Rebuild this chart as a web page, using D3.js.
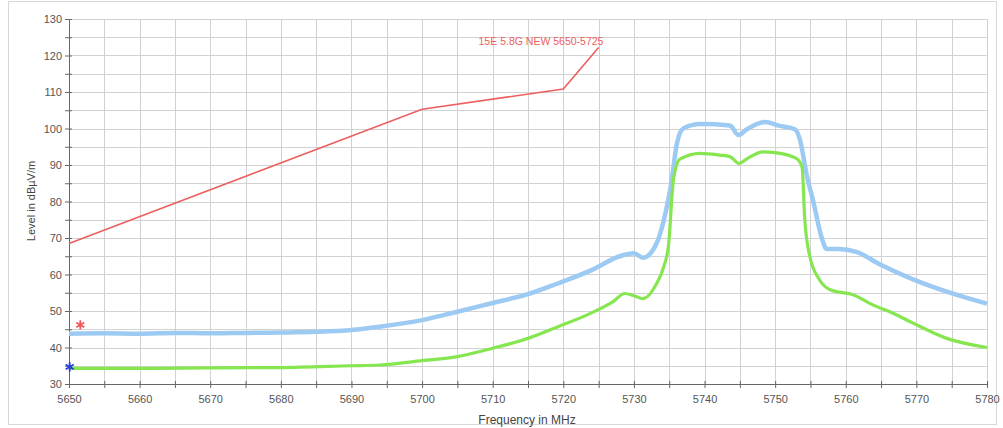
<!DOCTYPE html>
<html>
<head>
<meta charset="utf-8">
<script src="https://cdn.jsdelivr.net/npm/d3@7"></script>
<style>
    body { margin: 0; background: #fff; }
    svg { display: block; font-family: "Liberation Sans", Arial, sans-serif; }
</style>
</head>
<body>
<svg id="chart" width="1003" height="428"></svg>
<script>
// limit line (15E 5.8G NEW 5650-5725)
var limitLine = [[5650, 68.5], [5700, 105.3], [5720, 110.8], [5725, 122.2]];

// blue trace (freq MHz, level dBuV/m)
var blueTrace = [
    [5650, 43.8], [5655, 43.9], [5660, 43.8], [5665, 44.0], [5670, 43.9],
    [5675, 44.0], [5680, 44.1], [5685, 44.3], [5690, 44.8], [5694, 45.7],
    [5700, 47.5], [5705, 49.8], [5710, 52.2], [5715, 54.6], [5719, 57.4],
    [5724, 61.2], [5728, 65.0], [5730, 65.8], [5731.3, 64.6], [5733.2, 68.5],
    [5734.6, 78], [5735.2, 84], [5736.1, 96], [5737, 100], [5739.4, 101.2],
    [5743.6, 100.8], [5744.8, 98.2], [5746, 99.8], [5748.6, 101.8], [5750.5, 100.8],
    [5752.8, 99.8], [5753.5, 97], [5754.5, 87], [5755.4, 80], [5756.6, 70],
    [5757.3, 67.0], [5759, 67.0], [5761.5, 66.2], [5764.8, 62.8], [5769.6, 58.6],
    [5774.3, 55.3], [5780, 52]
];

// green trace
var greenTrace = [
    [5650, 34.3], [5660, 34.3], [5670, 34.4], [5680, 34.5], [5690, 35.0],
    [5694, 35.2], [5700, 36.4], [5705, 37.5], [5710, 39.8], [5715, 42.5],
    [5719, 45.5], [5724, 49.5], [5727, 52.5], [5728.7, 54.8], [5730, 54.2],
    [5731.3, 53.4], [5733.2, 57.5], [5734.2, 62], [5734.9, 68], [5735.6, 86],
    [5736.5, 91.6], [5739.4, 93.2], [5742.2, 92.7], [5743.6, 92.3], [5744.9, 90.4],
    [5746, 91.7], [5748.3, 93.6], [5750, 93.4], [5753, 91.8], [5753.8, 89.5],
    [5754.2, 75], [5754.9, 65], [5756.3, 58.5], [5757.8, 55.8], [5761.1, 54.4],
    [5763.9, 51.6], [5766.7, 49.4], [5769.6, 46.6], [5774.3, 42.5], [5780, 40.0]
];

// markers
var markers = [
    {f: 5651.6, v: 46.2, color: '#ee5a5a'},
    {f: 5650.1, v: 34.7, color: '#2a3fd8'}
];

var xTicks = d3.range(5650, 5781, 5);
var yTicks = d3.range(30, 131, 5);
var limitLabel = '15E 5.8G NEW 5650-5725';

var svg = d3.select('#chart');
var x = d3.scaleLinear().domain([5650, 5780]).range([69, 987]);
var y = d3.scaleLinear().domain([30, 130]).range([384, 19]);

// outer frame
svg.append('rect')
    .attr('x', 8.5).attr('y', 1.5)
    .attr('width', 988).attr('height', 423)
    .attr('fill', 'none')
    .attr('stroke', '#d8d8d8');

// grid
svg.append('g')
    .selectAll('line.gx')
    .data(xTicks)
    .join('line')
    .attr('x1', function (d) { return Math.round(x(d)) + 0.5; })
    .attr('x2', function (d) { return Math.round(x(d)) + 0.5; })
    .attr('y1', y(130)).attr('y2', y(30))
    .attr('stroke', '#d2d2d2');
svg.append('g')
    .selectAll('line.gy')
    .data(yTicks)
    .join('line')
    .attr('y1', function (d) { return Math.round(y(d)) + 0.5; })
    .attr('y2', function (d) { return Math.round(y(d)) + 0.5; })
    .attr('x1', x(5650)).attr('x2', x(5780))
    .attr('stroke', '#d2d2d2');

// axes
var yAxis = d3.axisLeft(y)
    .tickValues(yTicks)
    .tickSize(4)
    .tickFormat(function (d) { return d % 10 === 0 ? d : ''; });
var gy = svg.append('g').attr('transform', 'translate(' + x(5650) + ',0)').call(yAxis);

var xAxis = d3.axisBottom(x)
    .tickValues(xTicks)
    .tickSize(4)
    .tickFormat(function (d) { return d % 10 === 0 ? d : ''; });
var gx = svg.append('g').attr('transform', 'translate(0,' + y(30) + ')').call(xAxis);

[gx, gy].forEach(function (g) {
    g.select('.domain').attr('stroke', '#666');
    g.selectAll('.tick line').attr('stroke', '#666');
    g.selectAll('.tick text')
        .attr('fill', '#555')
        .style('font-size', '11px')
        .style('font-family', '"Liberation Sans", Arial, sans-serif');
});
// ticks crossing the axis
gx.selectAll('.tick line').attr('y1', -3);
gx.selectAll('.tick text').attr('dy', '1.1em');
gy.selectAll('.tick line').attr('x1', 3);

// axis titles
svg.append('text')
    .attr('x', 527).attr('y', 424)
    .attr('text-anchor', 'middle')
    .attr('fill', '#444')
    .style('font-size', '12px')
    .text('Frequency in MHz');
svg.append('text')
    .attr('transform', 'translate(35,201) rotate(-90)')
    .attr('text-anchor', 'middle')
    .attr('fill', '#444')
    .style('font-size', '11px')
    .text('Level in dBµV/m');

var line = d3.line()
    .x(function (d) { return x(d[0]); })
    .y(function (d) { return y(d[1]); });
var smooth = d3.line()
    .curve(d3.curveMonotoneX)
    .x(function (d) { return x(d[0]); })
    .y(function (d) { return y(d[1]); });

// traces (thick stroke stands in for the noise band)
svg.append('path')
    .datum(blueTrace)
    .attr('d', smooth)
    .attr('fill', 'none')
    .attr('stroke', '#9ccaf3')
    .attr('stroke-width', 4.5)
    .attr('stroke-linejoin', 'round');
svg.append('path')
    .datum(greenTrace)
    .attr('d', smooth)
    .attr('fill', 'none')
    .attr('stroke', '#86e650')
    .attr('stroke-width', 3.2)
    .attr('stroke-linejoin', 'round');

// limit
svg.append('path')
    .datum(limitLine)
    .attr('d', line)
    .attr('fill', 'none')
    .attr('stroke', '#ec5f5f')
    .attr('stroke-width', 1.6);
svg.append('text')
    .attr('x', 541).attr('y', 45)
    .attr('text-anchor', 'middle')
    .attr('fill', '#ec5f5f')
    .style('font-size', '10.5px')
    .text(limitLabel);

// asterisk markers
var star = d3.symbol().type(d3.symbolAsterisk).size(60);
svg.append('g')
    .selectAll('path')
    .data(markers)
    .join('path')
    .attr('transform', function (d) { return 'translate(' + x(d.f) + ',' + y(d.v) + ')'; })
    .attr('d', star)
    .attr('fill', 'none')
    .attr('stroke', function (d) { return d.color; })
    .attr('stroke-width', 1.8);
</script>
</body>
</html>
